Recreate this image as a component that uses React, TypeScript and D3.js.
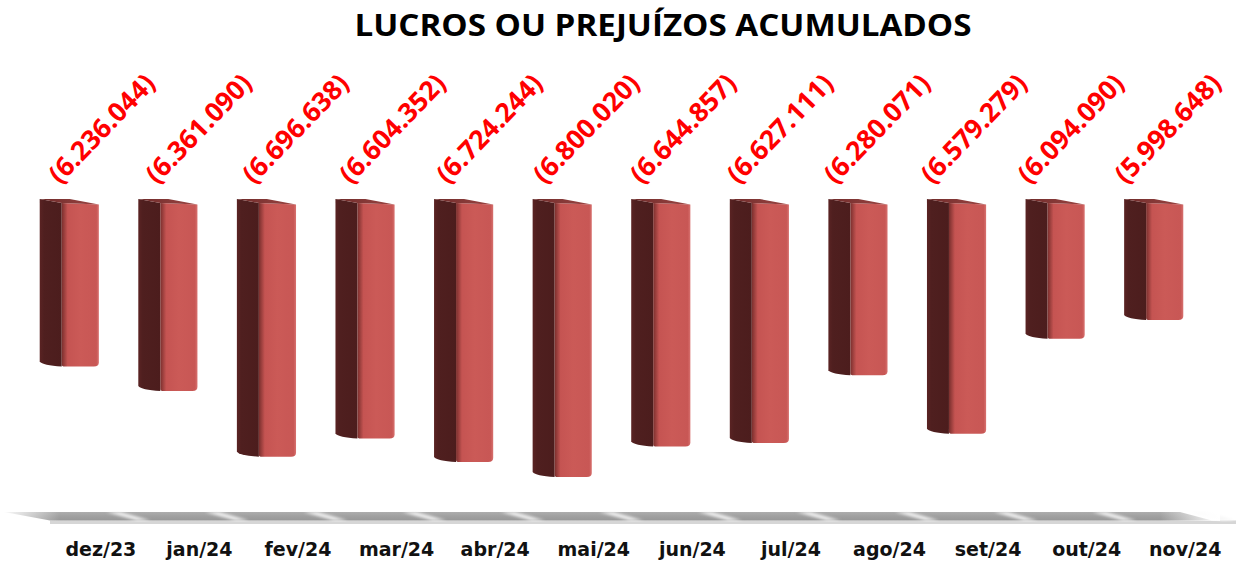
import React from "react";
import * as d3 from "d3";

const categories = ["dez/23","jan/24","fev/24","mar/24","abr/24","mai/24","jun/24","jul/24","ago/24","set/24","out/24","nov/24"];
const values = [6236044, 6361090, 6696638, 6604352, 6724244, 6800020, 6644857, 6627111, 6280071, 6579279, 6094090, 5998648];
const valueLabels = ["(6.236.044)","(6.361.090)","(6.696.638)","(6.604.352)","(6.724.244)","(6.800.020)","(6.644.857)","(6.627.111)","(6.280.071)","(6.579.279)","(6.094.090)","(5.998.648)"];
const title = "LUCROS OU PREJUÍZOS ACUMULADOS";
const axisDomain = [5400000, 7000000];

const W = 1236, H = 563;

export default function App() {
  const x = d3.scaleBand<string>().domain(categories).range([20, 1203]).paddingInner(0.4).paddingOuter(0.2);
  const y = d3.scaleLinear().domain(axisDomain).range([203, 516]);
  const labelX = d3.scalePoint<string>().domain(categories).range([60, 1126]);
  const bw = x.bandwidth();
  const side = 22;
  const step = x.step();

  return (
    <div style={{ position: "absolute", left: 0, top: 0, width: W, height: H, overflow: "hidden" }}>
      <svg width={W} height={H} style={{ display: "block", background: "#fff" }}>
        <defs>
          <linearGradient id="front" x1="0" x2="1" y1="0" y2="0">
            <stop offset="0" stopColor="#7a2f2d" />
            <stop offset="0.16" stopColor="#c55452" />
            <stop offset="0.5" stopColor="#cb5a57" />
            <stop offset="0.93" stopColor="#c85755" />
            <stop offset="1" stopColor="#d87270" />
          </linearGradient>
          <linearGradient id="sideG" x1="0" x2="1" y1="0" y2="0">
            <stop offset="0" stopColor="#5a2323" />
            <stop offset="0.2" stopColor="#4f1f1f" />
            <stop offset="1" stopColor="#4c1d1d" />
          </linearGradient>
          <linearGradient id="topG" x1="0" x2="1" y1="0" y2="0">
            <stop offset="0" stopColor="#6e2b2a" />
            <stop offset="1" stopColor="#9c4543" />
          </linearGradient>
          <linearGradient id="floorG" x1="0" x2="0" y1="0" y2="1">
            <stop offset="0" stopColor="#adadad" />
            <stop offset="0.5" stopColor="#a0a0a0" />
            <stop offset="1" stopColor="#979797" />
          </linearGradient>
          <linearGradient id="floorFadeR" x1="0" x2="1" y1="0" y2="0">
            <stop offset="0" stopColor="#fff" stopOpacity="0" />
            <stop offset="1" stopColor="#fff" stopOpacity="1" />
          </linearGradient>
          <linearGradient id="floorFadeL" x1="0" x2="1" y1="0" y2="0">
            <stop offset="0" stopColor="#fff" stopOpacity="1" />
            <stop offset="1" stopColor="#fff" stopOpacity="0" />
          </linearGradient>
          <filter id="blur1"><feGaussianBlur stdDeviation="1.5" /></filter>
        </defs>

        <text x={663} y={36} textAnchor="middle" fontFamily="'Open Sans', sans-serif" fontWeight={700} fontSize={30} textLength={617} lengthAdjust="spacingAndGlyphs" fill="#000">{title}</text>

        {/* floor */}
        <g>
          <path d="M50,520.5 L1236,520.5 L1236,524 L50,524 Z" fill="#d6d6d6" />
          <path d="M4,512 L1180,512 L1212,520.5 L50,520.5 Z" fill="url(#floorG)" />
          <g filter="url(#blur1)">
            {categories.map((c) => {
              const sx = (x(c) as number) + bw + step * 0.2 - 12;
              return <path key={c} d={`M${sx},512 L${sx + 14},512 L${sx + 44},520.5 L${sx + 30},520.5 Z`} fill="#f6f6f6" opacity={0.95} />;
            })}
          </g>
          <rect x={0} y={510} width={60} height={11} fill="url(#floorFadeL)" />
          <rect x={1160} y={510} width={60} height={11} fill="url(#floorFadeR)" />
        </g>

        {/* bars */}
        {categories.map((c, i) => {
          const xl = x(c) as number;
          const xs = xl + side;
          const xr = xl + bw;
          const yb = y(values[i]);
          const sidePath = `M${xl},199 L${xs},203 L${xs},${yb} Q${xl + 3},${yb - 1} ${xl},${yb - 5} Z`;
          const frontPath = `M${xs},203 L${xr},204.5 L${xr},${yb - 4} Q${xr},${yb} ${xr - 5},${yb} L${xs + 3},${yb} Q${xs},${yb} ${xs},${yb - 2} Z`;
          const topPath = `M${xl},199 L${xl + 30},199 L${xr},204.5 L${xs},203 Z`;
          return (
            <g key={c}>
              <path d={sidePath} fill="url(#sideG)" />
              <path d={frontPath} fill="url(#front)" />
              <path d={topPath} fill="url(#topG)" />
            </g>
          );
        })}

        {/* data labels */}
        {categories.map((c, i) => {
          const lx = labelX(c) as number;
          const ly = 185;
          return (
            <text key={c} x={lx} y={ly} transform={`rotate(-46 ${lx} ${ly})`} fontFamily="'Open Sans', sans-serif" fontWeight={700} fontSize={26.5} fill="#ff0000">{valueLabels[i]}</text>
          );
        })}

        {/* category labels */}
        {categories.map((c) => {
          const xl = x(c) as number;
          return (
            <text key={c} x={xl + bw + 2} y={556} textAnchor="middle" fontFamily="'DejaVu Sans', sans-serif" fontWeight={700} fontSize={19} fill="#111">{c}</text>
          );
        })}
      </svg>
    </div>
  );
}
